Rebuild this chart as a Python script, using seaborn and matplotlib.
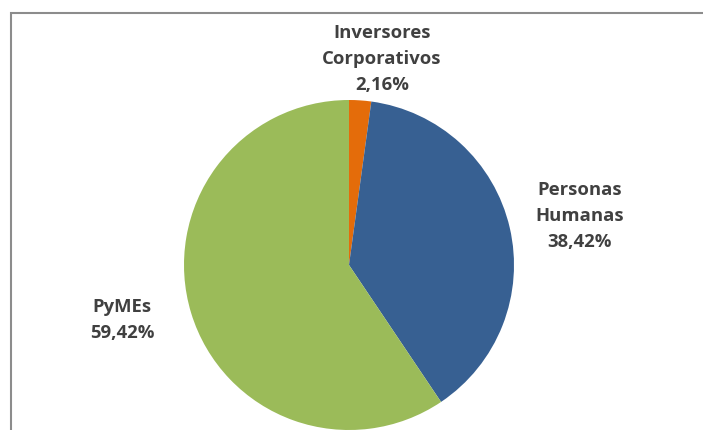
import matplotlib
matplotlib.use("Agg")
import matplotlib.pyplot as plt
import seaborn as sns
from matplotlib.patches import Rectangle

sns.set_theme(style="white")
plt.rcParams['font.family'] = ['Open Sans', 'DejaVu Sans']

categories = ["Inversores\nCorporativos", "Personas\nHumanas", "PyMEs"]
values = [2.16, 38.42, 59.42]
value_labels = ["2,16%", "38,42%", "59,42%"]
colors = ["#E46C0A", "#376092", "#9BBB59"]

W, H = 703, 430
fig = plt.figure(figsize=(W / 100, H / 100), dpi=100)
ax = fig.add_axes([0, 0, 1, 1])

cx, cy, r = 349, H - 265, 165
ax.pie(values, colors=colors, startangle=90, counterclock=False,
       center=(cx, cy), radius=r, frame=False,
       wedgeprops=dict(linewidth=0))
ax.set_xlim(0, W)
ax.set_ylim(0, H)
ax.set_aspect('equal')
ax.axis('off')

label_pos = [(382, H - 59), (580, H - 216), (122, H - 320)]
for cat, vl, (x, y) in zip(categories, value_labels, label_pos):
    ax.text(x, y, f"{cat}\n{vl}", ha='center', va='center', fontsize=13.3,
            fontweight='bold', color='#404040', linespacing=1.58)

frame = Rectangle((11, -20), 760, H - 13 + 20, fill=False,
                  edgecolor='#8C8C8C', linewidth=1.5, clip_on=False)
ax.add_patch(frame)

fig.savefig("out.png", dpi=100)
